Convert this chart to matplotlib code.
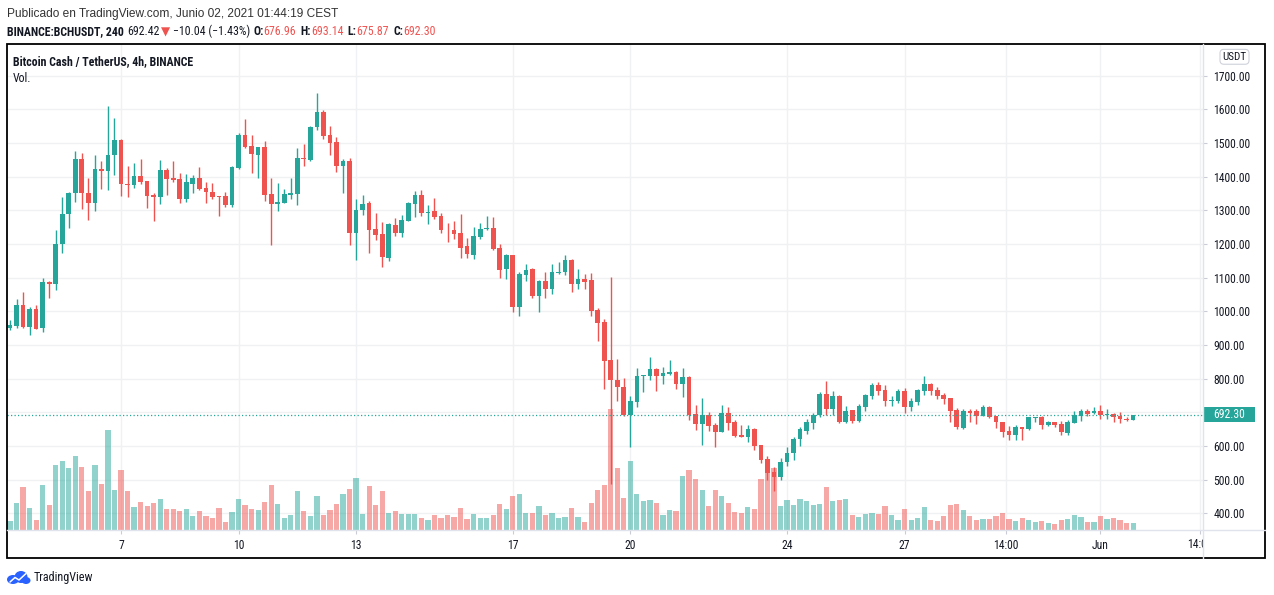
import numpy as np
import matplotlib
matplotlib.use("Agg")
import matplotlib.pyplot as plt
from matplotlib.patches import Rectangle, Ellipse
import matplotlib.transforms as mtransforms
from matplotlib import font_manager

# ---------------- data (BINANCE:BCHUSDT, 4h candles, May 4 - Jun 1 2021) ----------------
opens = [949, 957, 1019, 954, 1008, 949, 1088, 1080, 1199, 1288,
         1350, 1453, 1352, 1323, 1423, 1418, 1463, 1509, 1378, 1374,
         1402, 1387, 1344, 1338, 1420, 1396, 1392, 1335, 1379, 1396,
         1367, 1355, 1341, 1341, 1317, 1427, 1524, 1491, 1465, 1488,
         1348, 1320, 1323, 1346, 1349, 1456, 1450, 1546, 1592, 1524,
         1503, 1432, 1447, 1234, 1301, 1322, 1245, 1230, 1158, 1256,
         1234, 1269, 1320, 1346, 1293, 1298, 1283, 1242, 1242, 1233,
         1194, 1168, 1222, 1243, 1248, 1188, 1127, 1167, 1014, 1109,
         1126, 1044, 1090, 1067, 1115, 1117, 1152, 1082, 1096, 1092,
         1003, 968, 855, 797, 776, 692, 732, 807, 809, 830,
         807, 815, 821, 785, 806, 696, 664, 691, 661, 640,
         699, 670, 634, 628, 649, 603, 561, 524, 509, 551,
         578, 621, 645, 669, 692, 754, 710, 748, 671, 706,
         674, 716, 748, 780, 766, 734, 734, 763, 716, 731,
         764, 783, 765, 751, 742, 706, 654, 703, 703, 688,
         717, 690, 671, 643, 632, 655, 650, 683, 687, 662,
         670, 664, 638, 669, 689, 705, 697, 705, 691, 695,
         689, 681, 676.96]
highs = [975, 1037, 1058, 1014, 1020, 1100, 1091, 1242, 1340, 1354,
         1476, 1470, 1396, 1464, 1447, 1610, 1574, 1511, 1432, 1441,
         1453, 1388, 1351, 1450, 1426, 1447, 1411, 1408, 1405, 1429,
         1384, 1382, 1341, 1354, 1432, 1531, 1571, 1524, 1488, 1506,
         1396, 1382, 1364, 1396, 1485, 1497, 1550, 1648, 1598, 1550,
         1517, 1452, 1454, 1333, 1346, 1327, 1293, 1265, 1262, 1277,
         1286, 1324, 1357, 1360, 1316, 1337, 1291, 1262, 1268, 1289,
         1218, 1250, 1262, 1283, 1279, 1200, 1170, 1168, 1117, 1141,
         1129, 1093, 1117, 1141, 1147, 1167, 1155, 1126, 1111, 1115,
         1011, 976, 1101, 857, 802, 747, 832, 810, 865, 833,
         835, 854, 824, 833, 809, 722, 743, 702, 667, 722,
         716, 676, 661, 661, 652, 603, 571, 539, 563, 596,
         626, 657, 679, 697, 760, 792, 764, 751, 718, 706,
         724, 754, 786, 789, 780, 748, 768, 773, 742, 770,
         807, 787, 775, 757, 742, 713, 710, 711, 711, 723,
         719, 690, 671, 660, 661, 655, 687, 687, 689, 675,
         670, 673, 678, 703, 710, 709, 715, 723, 711, 699,
         701, 685, 693.14]
lows = [943, 949, 951, 929, 946, 938, 1040, 1064, 1172, 1246,
        1325, 1305, 1270, 1299, 1362, 1360, 1406, 1341, 1338, 1366,
        1377, 1307, 1267, 1320, 1346, 1385, 1323, 1326, 1350, 1361,
        1323, 1335, 1282, 1311, 1311, 1422, 1484, 1412, 1397, 1329,
        1196, 1299, 1323, 1333, 1317, 1432, 1447, 1539, 1511, 1463,
        1414, 1351, 1197, 1152, 1286, 1173, 1212, 1132, 1150, 1225,
        1221, 1267, 1281, 1283, 1259, 1275, 1232, 1207, 1215, 1158,
        1158, 1155, 1215, 1242, 1182, 1099, 1097, 999, 987, 1091,
        1038, 999, 1038, 1050, 1112, 1109, 1056, 1067, 1067, 986,
        911, 769, 486, 735, 690, 598, 717, 759, 795, 762,
        785, 812, 770, 744, 676, 648, 604, 643, 598, 640,
        646, 628, 628, 613, 587, 548, 499, 466, 500, 540,
        559, 601, 637, 649, 685, 692, 692, 667, 669, 669,
        671, 704, 740, 751, 719, 719, 728, 699, 704, 722,
        752, 752, 740, 724, 672, 650, 651, 671, 666, 688,
        683, 654, 626, 618, 618, 617, 648, 671, 650, 658,
        656, 634, 634, 668, 673, 689, 695, 681, 681, 671,
        668, 675, 675.87]
closes = [959, 1019, 954, 1008, 948, 1088, 1081, 1201, 1290, 1352,
          1453, 1350, 1323, 1423, 1418, 1465, 1509, 1377, 1374, 1402,
          1385, 1341, 1338, 1420, 1394, 1391, 1335, 1384, 1396, 1363,
          1353, 1338, 1338, 1317, 1428, 1524, 1487, 1467, 1488, 1346,
          1320, 1325, 1349, 1352, 1456, 1451, 1548, 1592, 1522, 1501,
          1432, 1447, 1234, 1301, 1319, 1242, 1227, 1161, 1259, 1234,
          1271, 1322, 1346, 1293, 1295, 1281, 1240, 1240, 1231, 1188,
          1171, 1224, 1245, 1248, 1185, 1124, 1167, 1014, 1111, 1123,
          1044, 1090, 1067, 1117, 1117, 1152, 1082, 1096, 1088, 1001,
          966, 852, 795, 774, 692, 734, 809, 809, 830, 807,
          818, 821, 785, 806, 693, 664, 691, 658, 640, 699,
          667, 631, 628, 649, 601, 558, 521, 509, 553, 578,
          621, 650, 671, 692, 754, 710, 748, 671, 703, 674,
          718, 751, 780, 764, 734, 736, 763, 716, 733, 767,
          783, 764, 749, 740, 704, 657, 703, 697, 688, 717,
          687, 670, 641, 632, 655, 650, 685, 687, 662, 670,
          662, 641, 671, 691, 705, 695, 705, 691, 695, 687,
          679, 676, 692.30]
volume_k = [28, 82, 130, 67, 31, 136, 76, 196, 208, 187,
            223, 190, 118, 196, 139, 301, 121, 181, 118, 70,
            85, 73, 82, 94, 64, 64, 58, 64, 43, 58,
            43, 37, 67, 25, 55, 94, 76, 64, 61, 85,
            136, 79, 37, 46, 118, 58, 43, 103, 46, 61,
            79, 109, 124, 157, 49, 133, 76, 118, 52, 58,
            49, 49, 49, 37, 31, 46, 37, 46, 40, 67,
            34, 49, 37, 37, 46, 79, 64, 103, 109, 52,
            52, 73, 46, 52, 37, 40, 67, 40, 25, 82,
            121, 136, 364, 187, 97, 208, 109, 88, 91, 82,
            46, 61, 58, 163, 181, 154, 121, 73, 121, 103,
            82, 55, 52, 70, 64, 154, 178, 185, 73, 91,
            76, 94, 88, 76, 79, 130, 88, 91, 94, 46,
            40, 49, 52, 49, 73, 46, 31, 64, 31, 37,
            70, 31, 28, 43, 76, 79, 61, 43, 31, 34,
            34, 43, 52, 34, 28, 37, 31, 25, 28, 22,
            19, 31, 34, 46, 40, 25, 25, 43, 34, 37,
            31, 22, 22]

# time axis: candle index of each label (candle 0 = May 4 04:00)
x_tick_pos = [17, 35, 53, 77, 95, 119, 137, 152.5, 167]
x_tick_labels = ['7', '10', '13', '17', '20', '24', '27', '14:00', 'Jun']
x_clipped_pos = 182.2
x_clipped_label = '14:00'
price_ticks = [400, 500, 600, 700, 800, 900, 1000, 1100, 1200,
               1300, 1400, 1500, 1600, 1700]
last_price = 692.30

# ---------------- style ----------------
def pick(fams):
    for f in fams:
        try:
            font_manager.findfont(f, fallback_to_default=False)
            return f
        except Exception:
            pass
    return 'DejaVu Sans'

MAIN = pick(['Liberation Sans Narrow', 'Roboto Condensed', 'Roboto', 'Liberation Sans'])
WIDE = pick(['Liberation Sans', 'Roboto', 'DejaVu Sans'])
plt.rcParams['font.family'] = [MAIN, 'DejaVu Sans']

UP, DOWN = '#26a69a', '#ef5350'
TXT = '#131722'
FS = 8.4

W, H = 1274, 595
fig = plt.figure(figsize=(W / 100, H / 100), dpi=100)
fig.patch.set_facecolor('white')

L, R, T, B = 7, 1203, 44, 530
rect = [L / W, 1 - B / H, (R - L) / W, (B - T) / H]

o = np.array(opens, float); h = np.array(highs, float)
lo = np.array(lows, float); c = np.array(closes, float)
v = np.array(volume_k, float)
idx = np.arange(len(o))
up = c >= o
cols = np.where(up, UP, DOWN)

ymin, ymax = 350.4, 1793.9
xlim = (-0.46, 182.7)

ax = fig.add_axes(rect)
axv = fig.add_axes(rect, sharex=ax)
axc = fig.add_axes(rect, sharex=ax)
for a in (axv, axc):
    a.patch.set_visible(False)
    a.axis('off')

ax.set_xlim(*xlim)
ax.set_ylim(ymin, ymax)
axc.set_ylim(ymin, ymax)
axv.set_ylim(0, 1458)

# grid / ticks
ax.yaxis.tick_right()
ax.set_yticks(price_ticks)
ax.set_yticklabels([f'{p:.2f}' for p in price_ticks])
ax.set_xticks(x_tick_pos + [x_clipped_pos])
ax.set_xticklabels(x_tick_labels + [''])
ax.tick_params(axis='y', length=3, width=0.8, color='#c9ccd4', pad=4.5,
               labelsize=FS, labelcolor=TXT)
ax.tick_params(axis='x', length=3, width=0.8, color='#c9ccd4', pad=3.2,
               labelsize=FS, labelcolor=TXT)
ax.grid(True, color='#f0f1f3', lw=1.0)
ax.set_axisbelow(True)
for s in ax.spines.values():
    s.set_visible(False)

# volume
vcols = np.where(up, UP, DOWN)
axv.bar(idx, v, width=0.8, color=vcols, alpha=0.5, linewidth=0)

# candles
axc.vlines(idx, lo, h, colors=cols, linewidth=1.0)
body = np.maximum(np.abs(c - o), 2.8)
axc.bar(idx, body, bottom=np.minimum(o, c), width=0.72, color=cols, linewidth=0)

# last price line + label
axc.axhline(last_price, color=UP, lw=0.9, ls=(0, (1, 1.8)))
bt = mtransforms.blended_transform_factory(ax.transAxes, ax.transData)
hdat = 15 / (486 / (ymax - ymin))
ax.add_patch(Rectangle((1.0, last_price - hdat / 2), 52 / 1196, hdat,
                       transform=bt, facecolor=UP, edgecolor='none',
                       clip_on=False, zorder=10))
ax.text(1.0 + 10 / 1196, last_price, f'{last_price:.2f}', transform=bt,
        color='white', fontsize=FS, va='center', ha='left', zorder=11,
        clip_on=False)

# overlay for frame and texts (pixel coordinates)
ov = fig.add_axes([0, 0, 1, 1])
ov.set_xlim(0, W)
ov.set_ylim(H, 0)
ov.axis('off')
ov.patch.set_visible(False)

ov.plot([R, R], [T, 558], color='#e0e3eb', lw=1)
ov.plot([L, 1265], [B, B], color='#e0e3eb', lw=1)
ov.add_patch(Rectangle((L, T), 1265 - L, 558 - T, fill=False,
                       edgecolor='black', lw=1.3))

# clipped time label at the edge of the price scale
clip_t = ax.text(x_clipped_pos, 548.5, x_clipped_label,
                 transform=mtransforms.blended_transform_factory(ax.transData, ov.transData),
                 fontsize=FS, color=TXT, ha='center', va='baseline')
clip_t.set_clip_on(True)
clip_t.set_clip_box(mtransforms.TransformedBbox(
    mtransforms.Bbox([[0, 530], [R + 1, 560]]), ov.transData))

# USDT badge
ov.text(1234.5, 56.8, 'USDT', ha='center', va='center', fontsize=FS - 0.4,
        color=TXT, bbox=dict(boxstyle='round,pad=0.22,rounding_size=0.35',
                             fc='white', ec='#cfd2da', lw=0.8))

# header
ov.text(7, 17.3, 'Publicado en TradingView.com, Junio 02, 2021 01:44:19 CEST',
        fontsize=FS + 0.2, color='#333333', va='baseline',
        family=[WIDE, 'DejaVu Sans'])

segs = [('BINANCE:BCHUSDT, 240', 'bold', TXT, 0),
        ('692.42', 'normal', TXT, 2.2),
        ('\u25BC', 'normal', DOWN, 1.0),
        ('\u221210.04 (\u22121.43%)', 'normal', TXT, 2.2),
        ('O:', 'bold', TXT, 2.2),
        ('676.96', 'normal', DOWN, 0),
        ('H:', 'bold', TXT, 3),
        ('693.14', 'normal', DOWN, 0),
        ('L:', 'bold', TXT, 3),
        ('675.87', 'normal', DOWN, 0),
        ('C:', 'bold', TXT, 3),
        ('692.30', 'normal', DOWN, 0)]
prev = None
for s, wgt, col, gap in segs:
    if prev is None:
        prev = ov.text(7, 35.3, s, fontsize=FS + 0.2, fontweight=wgt,
                       color=col, va='baseline')
    else:
        prev = ov.annotate(s, xy=(1, 0), xycoords=prev, xytext=(gap, 0),
                           textcoords='offset points', fontsize=FS + 0.2,
                           fontweight=wgt, color=col, va='bottom', ha='left')

ov.text(13, 65, 'Bitcoin Cash / TetherUS, 4h, BINANCE', fontsize=FS + 0.2,
        fontweight='bold', color=TXT, va='baseline')
ov.text(13, 81.7, 'Vol.', fontsize=FS + 0.2, color=TXT, va='baseline')

# TradingView logo (bottom left)
logo = '#2962ff'
for (cx, cy, ew, eh) in [(13, 579.5, 12, 9), (21, 577, 13, 12), (26, 580.5, 9, 7)]:
    ov.add_patch(Ellipse((cx, cy), ew, eh, color=logo, lw=0))
ov.plot([10, 15, 19, 26], [582, 577.5, 580, 573.5], color='white', lw=1.1,
        solid_capstyle='round')
ov.text(34, 581, 'TradingView', fontsize=FS + 0.3, color=TXT, va='baseline')

fig.savefig('out.png', dpi=100, facecolor='white')
